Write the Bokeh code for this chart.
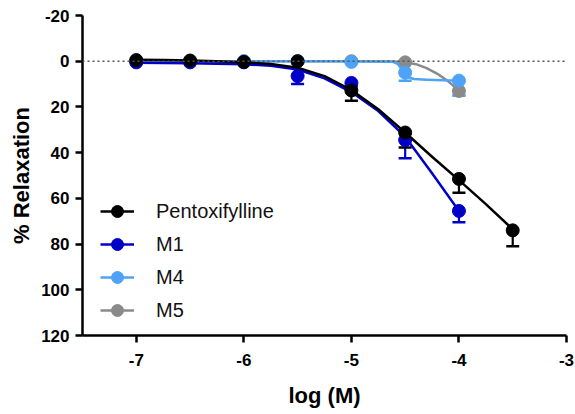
from bokeh.plotting import figure
from bokeh.models import (Range1d, FixedTicker, ColumnDataSource, Whisker, TeeHead,
                          Legend, LegendItem, Span)
from bokeh.embed import file_html
from bokeh.resources import INLINE

# ---- data ----
conc = [-7.0, -6.5, -6.0, -5.5, -5.0, -4.5, -4.0, -3.5]

pentox_y   = [-0.5, -0.3, 0.3, 0.0, 12.8, 31.2, 51.5, 74.0]
pentox_err = [0.0, 0.0, 0.0, 0.0, 4.5, 6.5, 6.0, 7.0]

m_conc = [-7.0, -6.5, -6.0, -5.5, -5.0, -4.5, -4.0]
m1_y   = [0.5, 0.5, 0.5, 6.5, 9.5, 34.5, 65.5]
m1_err = [0.0, 0.0, 0.0, 3.5, 1.5, 8.0, 5.0]
m4_y   = [0.0, 0.0, 0.0, 0.0, 0.3, 5.0, 8.5]
m4_err = [0.0, 0.0, 0.0, 0.0, 0.0, 3.5, 6.5]
m5_y   = [0.0, 0.0, 0.0, 0.0, 0.0, 0.5, 13.0]
m5_err = [0.0, 0.0, 0.0, 0.0, 0.0, 0.0, 2.0]

# fitted curves
pentox_fit_x = [-7.0, -6.75, -6.5, -6.25, -6.0, -5.75, -5.5, -5.25, -5.0, -4.75, -4.5, -4.25, -4.0, -3.75, -3.5]
pentox_fit_y = [-0.6, -0.5, -0.3, 0.0, 0.5, 1.2, 2.8, 6.5, 12.6, 21.0, 31.2, 41.8, 52.0, 62.5, 73.5]

m1_fit_x = [-7.0, -6.75, -6.5, -6.25, -6.0, -5.75, -5.5, -5.25, -5.0, -4.75, -4.5, -4.25, -4.0]
m1_fit_y = [0.7, 0.8, 0.9, 1.1, 1.3, 2.0, 3.6, 7.5, 13.5, 21.8, 33.0, 49.0, 65.5]

m4_fit_x = [-7.0, -5.0, -4.62, -4.57, -4.53, -4.5, -4.47, -4.42, -4.3, -4.0]
m4_fit_y = [0.0, 0.0, 0.2, 1.2, 3.5, 5.6, 7.0, 7.8, 8.1, 8.6]

m5_fit_x = [-7.0, -5.0, -4.6, -4.5, -4.4, -4.3, -4.2, -4.1, -4.0]
m5_fit_y = [0.0, 0.0, 0.1, 0.4, 1.3, 3.0, 5.5, 8.8, 12.8]

y_ticks = [-20, 0, 20, 40, 60, 80, 100, 120]
x_ticks = [-7, -6, -5, -4, -3]

names  = ["Pentoxifylline", "M1", "M4", "M5"]
colors = ["#000000", "#0000C8", "#4FA3F7", "#8A8A8A"]

p = figure(width=574, height=410, output_backend="svg", toolbar_location=None,
           x_range=Range1d(-7.5, -3.0), y_range=Range1d(120, -20),
           min_border_left=82, min_border_right=8, min_border_top=15, min_border_bottom=73)
p.outline_line_color = None
p.grid.visible = False
p.background_fill_color = "white"
p.border_fill_color = "white"

# dotted zero line
p.add_layout(Span(location=0, dimension="width", line_color="#555555",
                  line_dash="2 3", line_width=1.5))

series = [
    (names[3], colors[3], m_conc, m5_y, m5_err, m5_fit_x, m5_fit_y),
    (names[2], colors[2], m_conc, m4_y, m4_err, m4_fit_x, m4_fit_y),
    (names[1], colors[1], m_conc, m1_y, m1_err, m1_fit_x, m1_fit_y),
    (names[0], colors[0], conc, pentox_y, pentox_err, pentox_fit_x, pentox_fit_y),
]

items = {}
for name, col, xs, ys, errs, fx, fy in series:
    lr = p.line(fx, fy, line_color=col, line_width=2.5, line_join="round")
    src = ColumnDataSource(dict(x=xs, y=ys, up=[a + b for a, b in zip(ys, errs)]))
    w = Whisker(source=src, base="x", lower="y", upper="up", dimension="height",
                line_color=col, line_width=2.2,
                upper_head=TeeHead(size=13, line_color=col, line_width=2.5),
                lower_head=None)
    p.add_layout(w)
    sr = p.scatter("x", "y", source=src, size=13, fill_color=col, line_color=col)
    items[name] = [lr, sr]

legend = Legend(items=[LegendItem(label=n, renderers=items[n]) for n in names],
                location=(18, 10), orientation="vertical",
                glyph_width=34, glyph_height=30, label_height=20, spacing=3,
                label_standoff=22, padding=0, margin=0,
                border_line_color=None, background_fill_alpha=0,
                label_text_font="Liberation Sans", label_text_font_size="20px",
                label_text_color="#111111")
p.add_layout(legend, "center")

for ax in (p.xaxis[0], p.yaxis[0]):
    ax.axis_line_width = 2.5
    ax.axis_line_color = "black"
    ax.major_tick_line_width = 2.5
    ax.major_tick_line_color = "black"
    ax.major_tick_in = 0
    ax.major_tick_out = 7
    ax.minor_tick_line_color = None
    ax.major_label_text_font = "Liberation Sans"
    ax.major_label_text_font_style = "bold"
    ax.major_label_text_font_size = "17px"
    ax.major_label_text_color = "black"
    ax.axis_label_text_font = "Liberation Sans"
    ax.axis_label_text_font_style = "bold"
    ax.axis_label_text_font_size = "22px"
    ax.axis_label_text_color = "black"

p.xaxis[0].ticker = FixedTicker(ticks=x_ticks)
p.yaxis[0].ticker = FixedTicker(ticks=y_ticks)
p.xaxis[0].major_label_overrides = {t: str(t) for t in x_ticks}
p.yaxis[0].major_label_overrides = {t: str(t) for t in y_ticks}
p.xaxis[0].axis_label = "log (M)"
p.yaxis[0].axis_label = "% Relaxation"
p.xaxis[0].major_label_standoff = 11
p.xaxis[0].axis_label_standoff = 14
p.yaxis[0].major_label_standoff = 6
p.yaxis[0].axis_label_standoff = 4

open("out.html", "w").write(file_html(p, INLINE))
